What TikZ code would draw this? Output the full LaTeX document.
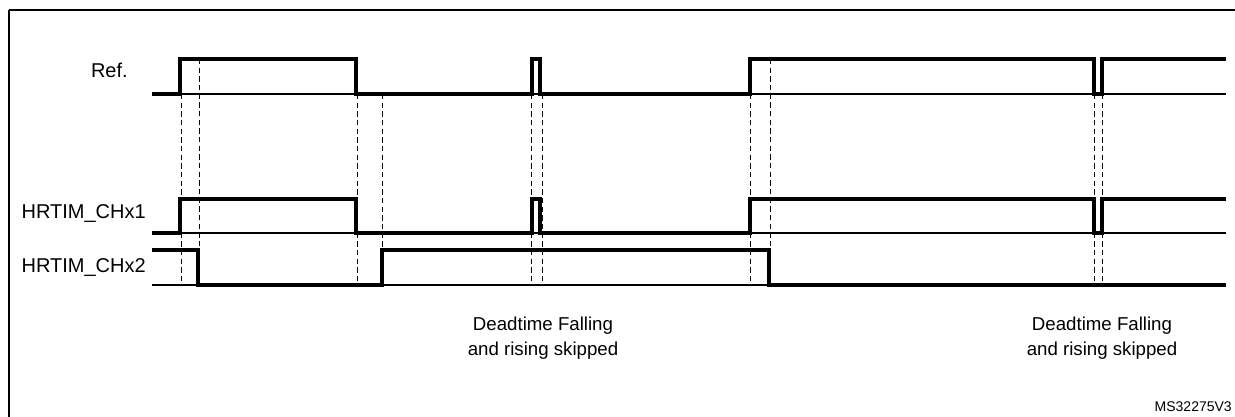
\documentclass[tikz,border=0pt]{standalone}
\usepackage{fontspec}
\setmainfont{Liberation Sans}
\begin{document}
\begin{tikzpicture}[x=0.75pt,y=-0.75pt,
		sig/.style={line width=2.6pt,line join=miter},
		base/.style={line width=0.9pt},
		guide/.style={dashed,line width=0.6pt,dash pattern=on 4pt off 2.5pt},
		lbl/.style={font=\fontsize{15}{18}\selectfont,inner sep=0pt},
		note/.style={font=\fontsize{14}{19}\selectfont,align=center,inner sep=0pt}]
		\useasboundingbox (0,0) rectangle (1235,417);
		\draw[line width=1.6pt] (9,10) -- (9,430) (9,10) -- (1245,10);
		% labels
		\node[lbl,anchor=east] (ref) at (128,70) {Ref.};
		\node[lbl,anchor=east] (ch1) at (146,214) {HRTIM\_CHx1};
		\node[lbl,anchor=east] (ch2) at (146,268) {HRTIM\_CHx2};
		% base lines
		\foreach \y in {94,233,285}
			\draw[base] (152,\y) -- (1226,\y);
		% dashed guides
		\foreach \x/\t in {181/94,199/59,357/94,382/94,531/94,542/94,750/94,770/59,1094/94,1102/94}
			\draw[guide] (\x,\t) -- (\x,285);
		% waveforms
		\draw[sig] (152,94) -- (180,94) -- (180,59) -- (356,59) -- (356,94) -- (532,94) -- (532,59) -- (540,59) -- (540,94)
			-- (750,94) -- (750,59) -- (1094,59) -- (1094,94) -- (1102,94) -- (1102,59) -- (1226,59);
		\draw[sig] (152,233) -- (180,233) -- (180,199) -- (356,199) -- (356,233) -- (532,233) -- (532,199) -- (540,199) -- (540,233)
			-- (750,233) -- (750,199) -- (1094,199) -- (1094,233) -- (1102,233) -- (1102,199) -- (1226,199);
		\draw[sig] (152,250) -- (198,250) -- (198,285) -- (382,285) -- (382,250) -- (769,250) -- (769,285) -- (1226,285);
		% notes
		\node[note] (skip1) at (543,338) {Deadtime Falling\\and rising skipped};
		\node[note] (skip2) at (1102,338) {Deadtime Falling\\and rising skipped};
		\node[font=\fontsize{10.5}{12}\selectfont,anchor=east,inner sep=0pt] (code) at (1232,407) {MS32275V3};
\end{tikzpicture}
\end{document}
